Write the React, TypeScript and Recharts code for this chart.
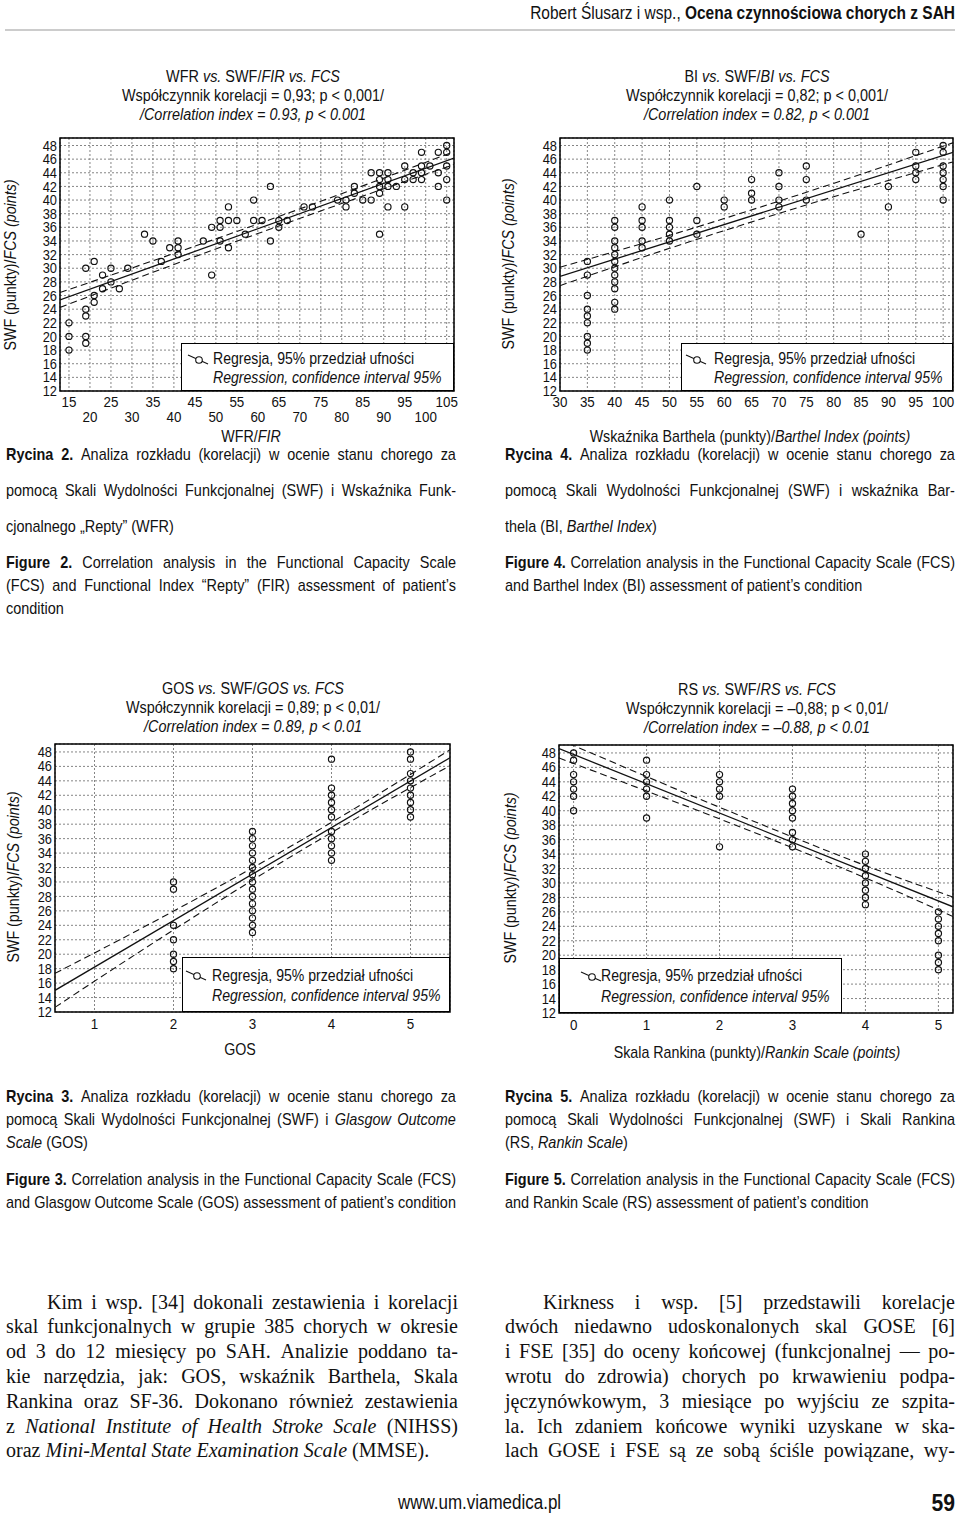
import React from 'react';
import { ComposedChart, Scatter, Line, XAxis, YAxis, CartesianGrid, ReferenceArea } from 'recharts';

const SANS = '"Liberation Sans", Arial, Helvetica, sans-serif';
const SERIF = '"Liberation Serif","DejaVu Serif",serif';
const K = 0.88; // horizontal condensing of the sans text
const KCAP = 0.85; // condensing of the caption text

// ---- shared Y axis (SWF / FCS)
const fcsTicks = [12, 14, 16, 18, 20, 22, 24, 26, 28, 30, 32, 34, 36, 38, 40, 42, 44, 46, 48];
const fcsDomain: [number, number] = [12, 49.1];

// ---- Figure 2: WFR / FIR
const wfrTicks = [15, 20, 25, 30, 35, 40, 45, 50, 55, 60, 65, 70, 75, 80, 85, 90, 95, 100, 105];
const wfrDomain: [number, number] = [12.86, 106.74];
const wfrPoints: [number, number][] = [
  [15, 22], [15, 20], [15, 18],
  [19, 30], [19, 24], [19, 23], [19, 20], [19, 19],
  [21, 31], [21, 26], [21, 25],
  [23, 29], [23, 27],
  [25, 30], [25, 28],
  [27, 27], [29, 30], [33, 35], [35, 34], [37, 31], [39, 33],
  [41, 34], [41, 33], [41, 32],
  [47, 34], [49, 36], [49, 29],
  [51, 37], [51, 36], [51, 34],
  [53, 39], [53, 37], [53, 33],
  [55, 37], [57, 35], [59, 40], [59, 37], [61, 37],
  [63, 42], [63, 34], [65, 37], [65, 36], [67, 37],
  [71, 39], [73, 39], [79, 40], [81, 40], [81, 39],
  [83, 42], [83, 41], [85, 40], [87, 44], [87, 40],
  [89, 44], [89, 43], [89, 42], [89, 41], [89, 35],
  [91, 44], [91, 43], [91, 42], [91, 39], [93, 42],
  [95, 45], [95, 43], [95, 39], [97, 44], [97, 43],
  [99, 47], [99, 45], [99, 44], [99, 43], [101, 45],
  [103, 47], [103, 44], [103, 42],
  [105, 48], [105, 47], [105, 45], [105, 43], [105, 40],
];
const wfrReg: [number, number][] = [[12.86, 25.35], [106.74, 46.15]];
const wfrUpper: [number, number][] = [[12.86, 26.45], [35, 31.1], [60, 36.49], [85, 42.08], [106.74, 47.1]];
const wfrLower: [number, number][] = [[12.86, 24.25], [35, 29.4], [60, 35.09], [85, 40.58], [106.74, 45.2]];

// ---- Figure 4: Barthel Index
const biTicks = [30, 35, 40, 45, 50, 55, 60, 65, 70, 75, 80, 85, 90, 95, 100];
const biDomain: [number, number] = [30, 101.8];
const biColumns: [number, number[]][] = [
  [35, [31, 29, 26, 24, 23, 22, 20, 19, 18]],
  [40, [37, 36, 34, 33, 32, 31, 30, 29, 28, 27, 25, 24]],
  [45, [39, 37, 36, 34, 33]],
  [50, [40, 37, 36, 35, 34]],
  [55, [42, 37, 35]],
  [60, [40, 39]],
  [65, [43, 41, 40]],
  [70, [44, 42, 40, 39]],
  [75, [45, 43, 40]],
  [85, [35]],
  [90, [42, 39]],
  [95, [47, 45, 44, 43]],
  [100, [48, 47, 45, 44, 43, 42, 40]],
];
const biReg: [number, number][] = [[30, 28.8], [101.8, 47.0]];
const biUpper: [number, number][] = [[30, 30.15], [50, 34.82], [70, 39.84], [85, 43.79], [101.8, 48.4]];
const biLower: [number, number][] = [[30, 27.45], [50, 32.92], [70, 38.04], [85, 41.69], [101.8, 45.6]];

// ---- Figure 3: GOS
const gosTicks = [1, 2, 3, 4, 5];
const gosDomain: [number, number] = [0.5, 5.5];
const gosColumns: [number, number[]][] = [
  [2, [30, 29, 24, 22, 20, 19, 18]],
  [3, [37, 36, 35, 34, 33, 32, 31, 30, 29, 28, 27, 26, 25, 24, 23]],
  [4, [47, 43, 42, 41, 40, 39, 37, 36, 35, 34, 33]],
  [5, [48, 47, 45, 44, 43, 42, 41, 40, 39]],
];
const gosReg: [number, number][] = [[0.5, 15.0], [5.5, 47.2]];
const gosUpper: [number, number][] = [[0.5, 17.35], [1.5, 23.04], [2.5, 28.93], [3.5, 35.04], [4.5, 41.54], [5.5, 48.3]];
const gosLower: [number, number][] = [[0.5, 12.65], [1.5, 19.84], [2.5, 26.83], [3.5, 33.6], [4.5, 39.98], [5.5, 46.1]];

// ---- Figure 5: Rankin Scale
const rsTicks = [0, 1, 2, 3, 4, 5];
const rsDomain: [number, number] = [-0.2, 5.2];
const rsColumns: [number, number[]][] = [
  [0, [48, 47, 45, 44, 43, 42, 40]],
  [1, [47, 45, 44, 43, 42, 39]],
  [2, [45, 44, 43, 42, 35]],
  [3, [43, 42, 41, 40, 39, 37, 36, 35]],
  [4, [34, 33, 32, 31, 30, 29, 28, 27]],
  [5, [26, 25, 24, 23, 22, 20, 19, 18]],
];
const rsReg: [number, number][] = [[-0.2, 48.6], [5.2, 26.7]];
const rsUpper: [number, number][] = [[-0.2, 49.9], [1, 44.73], [2, 40.48], [3, 36.37], [4, 32.41], [5.2, 28.05]];
const rsLower: [number, number][] = [[-0.2, 47.3], [1, 42.73], [2, 38.88], [3, 34.87], [4, 30.71], [5.2, 25.35]];

type XY = { x: number; y: number };
const fromPairs = (p: [number, number][]): XY[] => p.map(([x, y]) => ({ x, y }));
const fromColumns = (c: [number, number[]][]): XY[] => c.flatMap(([x, ys]) => ys.map((y) => ({ x, y })));

const INK = '#111';

// condensed SVG text
function CT({ x, y, anchor = 'start', size, weight, rotate, children }: { x: number; y: number; anchor?: string; size: number; weight?: string; rotate?: boolean; children: React.ReactNode }) {
  const tr = `translate(${x} ${y})${rotate ? ' rotate(-90)' : ''} scale(${K} 1)`;
  return (
    <text transform={tr} x={0} y={0} textAnchor={anchor as any} fontFamily={SANS} fontSize={size} fontWeight={weight || 'normal'} fill={INK}>
      {children}
    </text>
  );
}

const Ring = (props: any) => {
  const { cx, cy } = props;
  if (cx == null || cy == null) return null;
  return <circle cx={cx} cy={cy} r={3.1} fill="none" stroke={INK} strokeWidth={1.15} />;
};

const TICK_SIZE = 14.6;
const YTick = (props: any) => {
  const { x, y, payload } = props;
  return <CT x={x} y={y + 5.1} anchor="end" size={TICK_SIZE}>{payload.value}</CT>;
};

const TwoRowTick = (props: any) => {
  const { x, y, payload } = props;
  const lower = payload.value % 10 === 0;
  return <CT x={x} y={y + (lower ? 31 : 16)} anchor="middle" size={15.2}>{payload.value}</CT>;
};

const makeTick = (dy: number) => (props: any) => {
  const { x, y, payload } = props;
  return <CT x={x} y={y + dy} anchor="middle" size={15.2}>{payload.value}</CT>;
};

type PanelProps = {
  left: number; top: number; plotW: number; plotH: number;
  xDomain: [number, number]; xTicks: number[];
  points: XY[]; reg: XY[]; upper: XY[]; lower: XY[];
  tick: any;
};

function Panel({ left, top, plotW, plotH, xDomain, xTicks, points, reg, upper, lower, tick }: PanelProps) {
  const mL = 50, mT = 10, mR = 6, xH = 40;
  return (
    <div style={{ position: 'absolute', left: left - mL, top: top - mT }}>
      <ComposedChart width={plotW + mL + mR} height={plotH + mT + xH} margin={{ top: mT, right: mR, left: 0, bottom: 0 }}>
        <CartesianGrid stroke="#777" strokeDasharray="2 2" strokeWidth={0.9} />
        <XAxis type="number" dataKey="x" domain={xDomain} ticks={xTicks} interval={0} allowDataOverflow
          tickLine={false} axisLine={false} tickSize={0} tickMargin={0} height={xH} tick={tick} />
        <YAxis type="number" dataKey="y" domain={fcsDomain} ticks={fcsTicks} interval={0} allowDataOverflow
          tickLine={false} axisLine={false} tickSize={0} tickMargin={3} width={mL} tick={YTick} />
        <Line data={upper} dataKey="y" type="monotone" stroke={INK} strokeWidth={1.1} strokeDasharray="7 4"
          dot={false} activeDot={false} isAnimationActive={false} />
        <Line data={lower} dataKey="y" type="monotone" stroke={INK} strokeWidth={1.1} strokeDasharray="7 4"
          dot={false} activeDot={false} isAnimationActive={false} />
        <Line data={reg} dataKey="y" type="linear" stroke={INK} strokeWidth={1.3}
          dot={false} activeDot={false} isAnimationActive={false} />
        <Scatter data={points} dataKey="y" shape={Ring} isAnimationActive={false} />
        <ReferenceArea x1={xDomain[0]} x2={xDomain[1]} y1={fcsDomain[0]} y2={fcsDomain[1]}
          fill="none" stroke="#000" strokeWidth={1.5} ifOverflow="visible" />
      </ComposedChart>
    </div>
  );
}

type LegendProps = { left: number; top: number; width: number; height: number; iconX: number; iconY: number; textX: number; c1: number; c2: number };
function LegendBox({ left, top, width, height, iconX, iconY, textX, c1, c2 }: LegendProps) {
  const line: React.CSSProperties = { position: 'absolute', left: textX, lineHeight: '22px', whiteSpace: 'nowrap', transform: `scaleX(${K})`, transformOrigin: 'left center' };
  return (
    <div style={{ position: 'absolute', left, top, width, height, boxSizing: 'border-box', border: '1.5px solid #000', background: '#fff', fontFamily: SANS, fontSize: 16, color: INK }}>
      <svg style={{ position: 'absolute', left: iconX, top: iconY }} width={24} height={12}>
        <line x1={1} y1={1} x2={21} y2={10} stroke={INK} strokeWidth={1.1} />
        <circle cx={12} cy={6} r={3.3} fill="#fff" stroke={INK} strokeWidth={1.1} />
      </svg>
      <div style={{ ...line, top: c1 - 11 }}>Regresja, 95% przedział ufności</div>
      <div style={{ ...line, top: c2 - 11, fontStyle: 'italic' }}>Regression, confidence interval 95%</div>
    </div>
  );
}

type Seg = [string, string];
type JLine = { cy: number; j: boolean; segs: Seg[]; indent?: number };

function JustLine({ x, w, line, size, lh, family, k }: { x: number; w: number; line: JLine; size: number; lh: number; family: string; k: number }) {
  const styleOf = (s: string): React.CSSProperties => ({ fontWeight: s.includes('b') ? 'bold' : 'normal', fontStyle: s.includes('i') ? 'italic' : 'normal' });
  const base: React.CSSProperties = {
    position: 'absolute', left: x, top: line.cy - lh / 2, width: w / k, height: lh, lineHeight: lh + 'px',
    fontSize: size, fontFamily: family, whiteSpace: 'nowrap', color: INK, boxSizing: 'border-box',
    paddingLeft: (line.indent || 0) / k, transform: `scaleX(${k})`, transformOrigin: 'left top',
  };
  if (line.j) {
    const tokens: Seg[] = [];
    line.segs.forEach(([t, s]) => t.split(' ').filter((q) => q.length > 0).forEach((q) => tokens.push([q, s])));
    return (
      <div style={{ ...base, display: 'flex', justifyContent: 'space-between', columnGap: 3 }}>
        {tokens.map(([t, s], i) => <span key={i} style={styleOf(s)}>{t}</span>)}
      </div>
    );
  }
  return (
    <div style={base}>
      {line.segs.map(([t, s], i) => <span key={i} style={styleOf(s)}>{t}</span>)}
    </div>
  );
}

const capTopLeft: JLine[] = [
  { cy: 455, j: true, segs: [['Rycina 2.', 'b'], [' Analiza rozkładu (korelacji) w ocenie stanu chorego za', '']] },
  { cy: 491, j: true, segs: [['pomocą Skali Wydolności Funkcjonalnej (SWF) i Wskaźnika Funk-', '']] },
  { cy: 527, j: false, segs: [['cjonalnego „Repty” (WFR)', '']] },
  { cy: 563, j: true, segs: [['Figure 2.', 'b'], [' Correlation analysis in the Functional Capacity Scale', '']] },
  { cy: 586, j: true, segs: [['(FCS) and Functional Index “Repty” (FIR) assessment of patient’s', '']] },
  { cy: 609, j: false, segs: [['condition', '']] },
];
const capTopRight: JLine[] = [
  { cy: 455, j: true, segs: [['Rycina 4.', 'b'], [' Analiza rozkładu (korelacji) w ocenie stanu chorego za', '']] },
  { cy: 491, j: true, segs: [['pomocą Skali Wydolności Funkcjonalnej (SWF) i wskaźnika Bar-', '']] },
  { cy: 527, j: false, segs: [['thela (BI, ', ''], ['Barthel Index', 'i'], [')', '']] },
  { cy: 563, j: true, segs: [['Figure 4.', 'b'], [' Correlation analysis in the Functional Capacity Scale (FCS)', '']] },
  { cy: 586, j: false, segs: [['and Barthel Index (BI) assessment of patient’s condition', '']] },
];
const capBotLeft: JLine[] = [
  { cy: 1097, j: true, segs: [['Rycina 3.', 'b'], [' Analiza rozkładu (korelacji) w ocenie stanu chorego za', '']] },
  { cy: 1120, j: true, segs: [['pomocą Skali Wydolności Funkcjonalnej (SWF) i ', ''], ['Glasgow Outcome', 'i']] },
  { cy: 1143, j: false, segs: [['Scale', 'i'], [' (GOS)', '']] },
  { cy: 1180, j: true, segs: [['Figure 3.', 'b'], [' Correlation analysis in the Functional Capacity Scale (FCS)', '']] },
  { cy: 1203, j: true, segs: [['and Glasgow Outcome Scale (GOS) assessment of patient’s condition', '']] },
];
const capBotRight: JLine[] = [
  { cy: 1097, j: true, segs: [['Rycina 5.', 'b'], [' Analiza rozkładu (korelacji) w ocenie stanu chorego za', '']] },
  { cy: 1120, j: true, segs: [['pomocą Skali Wydolności Funkcjonalnej (SWF) i Skali Rankina', '']] },
  { cy: 1143, j: false, segs: [['(RS, ', ''], ['Rankin Scale', 'i'], [')', '']] },
  { cy: 1180, j: true, segs: [['Figure 5.', 'b'], [' Correlation analysis in the Functional Capacity Scale (FCS)', '']] },
  { cy: 1203, j: false, segs: [['and Rankin Scale (RS) assessment of patient’s condition', '']] },
];

const BODY_TOP = 1301.5, BODY_LH = 24.8;
const bodyLeft: JLine[] = [
  { cy: 0, j: true, indent: 41, segs: [['Kim i wsp. [34] dokonali zestawienia i korelacji', '']] },
  { cy: 1, j: true, segs: [['skal funkcjonalnych w grupie 385 chorych w okresie', '']] },
  { cy: 2, j: true, segs: [['od 3 do 12 miesięcy po SAH. Analizie poddano ta-', '']] },
  { cy: 3, j: true, segs: [['kie narzędzia, jak: GOS, wskaźnik Barthela, Skala', '']] },
  { cy: 4, j: true, segs: [['Rankina oraz SF-36. Dokonano również zestawienia', '']] },
  { cy: 5, j: true, segs: [['z ', ''], ['National Institute of Health Stroke Scale', 'i'], [' (NIHSS)', '']] },
  { cy: 6, j: false, segs: [['oraz ', ''], ['Mini-Mental State Examination Scale', 'i'], [' (MMSE).', '']] },
];
const bodyRight: JLine[] = [
  { cy: 0, j: true, indent: 38, segs: [['Kirkness i wsp. [5] przedstawili korelacje', '']] },
  { cy: 1, j: true, segs: [['dwóch niedawno udoskonalonych skal GOSE [6]', '']] },
  { cy: 2, j: true, segs: [['i FSE [35] do oceny końcowej (funkcjonalnej — po-', '']] },
  { cy: 3, j: true, segs: [['wrotu do zdrowia) chorych po krwawieniu podpa-', '']] },
  { cy: 4, j: true, segs: [['jęczynówkowym, 3 miesiące po wyjściu ze szpita-', '']] },
  { cy: 5, j: true, segs: [['la. Ich zdaniem końcowe wyniki uzyskane w ska-', '']] },
  { cy: 6, j: true, segs: [['lach GOSE i FSE są ze sobą ściśle powiązane, wy-', '']] },
];

const It = ({ children }: { children: React.ReactNode }) => <tspan fontStyle="italic">{children}</tspan>;

function Title({ cx, b, name, name2, corr, p, pEn }: { cx: number; b: number; name: string; name2: string; corr: string; p: string; pEn: string }) {
  return (
    <g>
      <CT x={cx} y={b} anchor="middle" size={16.4}>
        <tspan>{name + ' '}</tspan><It>vs.</It><tspan>{' SWF/'}</tspan><It>{name2 + ' vs. FCS'}</It>
      </CT>
      <CT x={cx} y={b + 19} anchor="middle" size={16.4}>{'Współczynnik korelacji = ' + corr + '; p < ' + p + '/'}</CT>
      <CT x={cx} y={b + 38} anchor="middle" size={16.4}><It>{'/Correlation index = ' + corr.replace(',', '.') + ', p < ' + pEn}</It></CT>
    </g>
  );
}

function YTitle({ x, y }: { x: number; y: number }) {
  return (
    <CT x={x} y={y} anchor="middle" size={16.2} rotate>
      <tspan>{'SWF (punkty)/'}</tspan><It>FCS (points)</It>
    </CT>
  );
}

export default function App() {
  return (
    <div style={{ position: 'absolute', left: 0, top: 0, width: 960, height: 1518, background: '#fff', overflow: 'hidden', color: INK }}>
      <Panel left={60} top={138} plotW={394} plotH={253} xDomain={wfrDomain} xTicks={wfrTicks}
        points={fromPairs(wfrPoints)} reg={fromPairs(wfrReg)} upper={fromPairs(wfrUpper)} lower={fromPairs(wfrLower)} tick={TwoRowTick} />
      <Panel left={560} top={138} plotW={393} plotH={253} xDomain={biDomain} xTicks={biTicks}
        points={fromColumns(biColumns)} reg={fromPairs(biReg)} upper={fromPairs(biUpper)} lower={fromPairs(biLower)} tick={makeTick(16)} />
      <Panel left={55} top={744} plotW={395} plotH={268} xDomain={gosDomain} xTicks={gosTicks}
        points={fromColumns(gosColumns)} reg={fromPairs(gosReg)} upper={fromPairs(gosUpper)} lower={fromPairs(gosLower)} tick={makeTick(16.5)} />
      <Panel left={559} top={745} plotW={394} plotH={268} xDomain={rsDomain} xTicks={rsTicks}
        points={fromColumns(rsColumns)} reg={fromPairs(rsReg)} upper={fromPairs(rsUpper)} lower={fromPairs(rsLower)} tick={makeTick(17)} />

      <LegendBox left={181} top={343} width={273} height={48} iconX={5} iconY={10} textX={31} c1={15} c2={34} />
      <LegendBox left={681} top={343} width={272} height={48} iconX={3} iconY={10} textX={32} c1={15} c2={34} />
      <LegendBox left={182} top={957} width={268} height={55} iconX={2} iconY={12} textX={29} c1={18} c2={38} />
      <LegendBox left={559} top={958} width={283} height={55} iconX={20} iconY={12} textX={41} c1={17} c2={38} />

      <svg style={{ position: 'absolute', left: 0, top: 0 }} width={960} height={1518}>
        <CT x={955} y={19} anchor="end" size={17.6}>
          <tspan>{'Robert Ślusarz i wsp., '}</tspan><tspan fontWeight="bold">Ocena czynnościowa chorych z SAH</tspan>
        </CT>
        <line x1={5} y1={30} x2={955} y2={30} stroke="#999" strokeWidth={1.2} />

        <Title cx={253} b={82} name="WFR" name2="FIR" corr="0,93" p="0,001" pEn="0.001" />
        <Title cx={757} b={82} name="BI" name2="BI" corr="0,82" p="0,001" pEn="0.001" />
        <Title cx={253} b={694} name="GOS" name2="GOS" corr="0,89" p="0,01" pEn="0.01" />
        <Title cx={757} b={695} name="RS" name2="RS" corr="–0,88" p="0,01" pEn="0.01" />

        <YTitle x={16} y={265} />
        <YTitle x={514} y={264} />
        <YTitle x={19} y={877} />
        <YTitle x={516} y={878} />

        <CT x={251} y={442} anchor="middle" size={16.2}><tspan>{'WFR/'}</tspan><It>FIR</It></CT>
        <CT x={750} y={442} anchor="middle" size={16.2}><tspan>{'Wskaźnika Barthela (punkty)/'}</tspan><It>Barthel Index (points)</It></CT>
        <CT x={240} y={1055} anchor="middle" size={16.2}>GOS</CT>
        <CT x={757} y={1058} anchor="middle" size={16.2}><tspan>{'Skala Rankina (punkty)/'}</tspan><It>Rankin Scale (points)</It></CT>
        <text x={10} y={452} fontFamily={SANS} fontSize={10} fill="#666">.</text>

        <CT x={398} y={1509} size={19.3}>www.um.viamedica.pl</CT>
        <CT x={955} y={1511} anchor="end" size={24} weight="bold">59</CT>
      </svg>

      {capTopLeft.map((l, i) => <JustLine key={'a' + i} x={6} w={450} line={l} size={17} lh={22} family={SANS} k={KCAP} />)}
      {capTopRight.map((l, i) => <JustLine key={'b' + i} x={505} w={450} line={l} size={17} lh={22} family={SANS} k={KCAP} />)}
      {capBotLeft.map((l, i) => <JustLine key={'c' + i} x={6} w={450} line={l} size={17} lh={22} family={SANS} k={KCAP} />)}
      {capBotRight.map((l, i) => <JustLine key={'d' + i} x={505} w={450} line={l} size={17} lh={22} family={SANS} k={KCAP} />)}

      {bodyLeft.map((l, i) => <JustLine key={'e' + i} x={6} w={452} line={{ ...l, cy: BODY_TOP + l.cy * BODY_LH }} size={20} lh={24} family={SERIF} k={1} />)}
      {bodyRight.map((l, i) => <JustLine key={'f' + i} x={505} w={450} line={{ ...l, cy: BODY_TOP + l.cy * BODY_LH }} size={20} lh={24} family={SERIF} k={1} />)}
    </div>
  );
}
